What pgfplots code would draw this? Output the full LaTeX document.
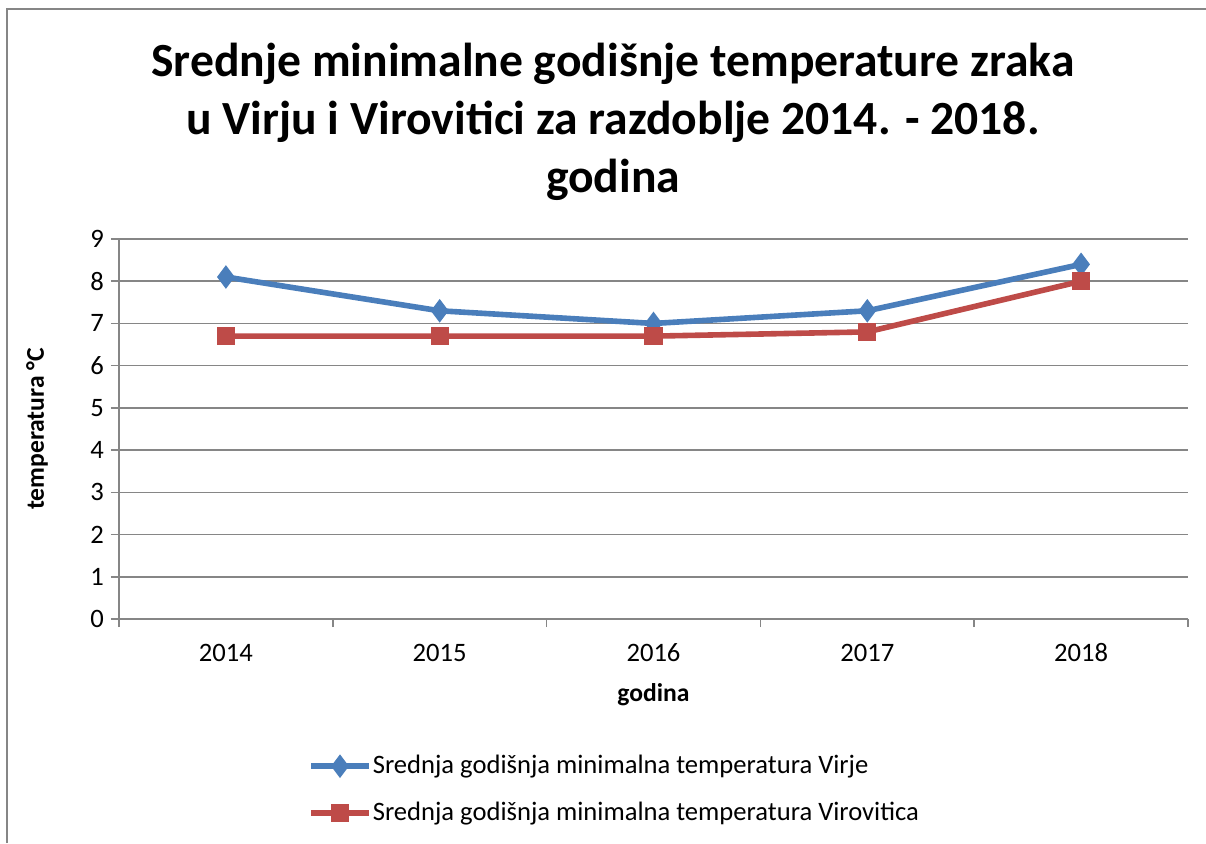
\documentclass[border=0pt]{standalone}
\usepackage{fontspec}
\setmainfont{Carlito}
\usepackage{pgfplots}
\pgfplotsset{compat=1.18}
\definecolor{cblue}{HTML}{4A7EBB}
\definecolor{cred}{HTML}{BE4B48}
\definecolor{cgray}{HTML}{868686}
\begin{document}
\begin{tikzpicture}[x=1pt,y=1pt]
\useasboundingbox (0,0) rectangle (603,421.5);
\draw[cgray, line width=1.2pt] (3.5,0) -- (3.5,417) -- (603,417);
\node[align=center, font=\fontsize{23.8}{29}\selectfont\bfseries] at (306.5,360.5)
 {Srednje minimalne godišnje temperature zraka\\u Virju i Virovitici za razdoblje 2014. - 2018.\\godina};
\begin{axis}[
  at={(59.5pt,112pt)}, anchor=south west,
  scale only axis, width=534.5pt, height=190pt,
  xmin=-0.5, xmax=4.5, ymin=0, ymax=9,
  xtick={0,1,2,3,4}, xticklabels={2014,2015,2016,2017,2018},
  minor xtick={-0.5,0.5,1.5,2.5,3.5,4.5},
  ytick={0,1,...,9},
  axis lines=left,
  axis line style={-, cgray, line width=0.8pt},
  tick align=outside,
  major x tick style={draw=none},
  major y tick style={cgray, line width=0.8pt},
  minor x tick style={cgray, line width=0.8pt},
  major tick length=4pt, minor tick length=4pt,
  ymajorgrids, major grid style={cgray, line width=0.8pt},
  /pgf/number format/assume math mode=true,
  tick label style={font=\fontsize{13.3}{15}\selectfont, text=black},
  xticklabel style={anchor=center, yshift=-13pt},
  xlabel={\textbf{godina}},
  ylabel={\textbf{temperatura °C}},
  label style={font=\fontsize{12.8}{15}\selectfont},
  xlabel style={at={(axis description cs:0.5,-0.2)}, anchor=center},
  ylabel style={at={(axis description cs:-0.0767,0.5)}, anchor=center},
  clip=false,
  legend style={draw=none, fill=none, at={(axis description cs:0.171,-0.345)}, anchor=north west,
    font=\fontsize{13.3}{15}\selectfont, row sep=11.5pt,
    nodes={inner sep=0.5pt}},
  legend cell align=left,
  legend image code/.code={\draw[mark repeat=2,mark phase=2] plot coordinates {(0pt,0pt) (14.5pt,0pt) (29pt,0pt)};},
]
\addplot[cblue, line width=2.8pt, mark=diamond*, mark size=5.5pt, mark options={line width=0.5pt, fill=cblue}]
 coordinates {(0,8.1) (1,7.3) (2,7.0) (3,7.3) (4,8.4)};
\addlegendentry{Srednja godišnja minimalna temperatura Virje}
\addplot[cred, line width=2.8pt, mark=square*, mark size=4.3pt, mark options={line width=0.5pt, fill=cred}]
 coordinates {(0,6.7) (1,6.7) (2,6.7) (3,6.8) (4,8.0)};
\addlegendentry{Srednja godišnja minimalna temperatura Virovitica}
\end{axis}
\end{tikzpicture}
\end{document}
